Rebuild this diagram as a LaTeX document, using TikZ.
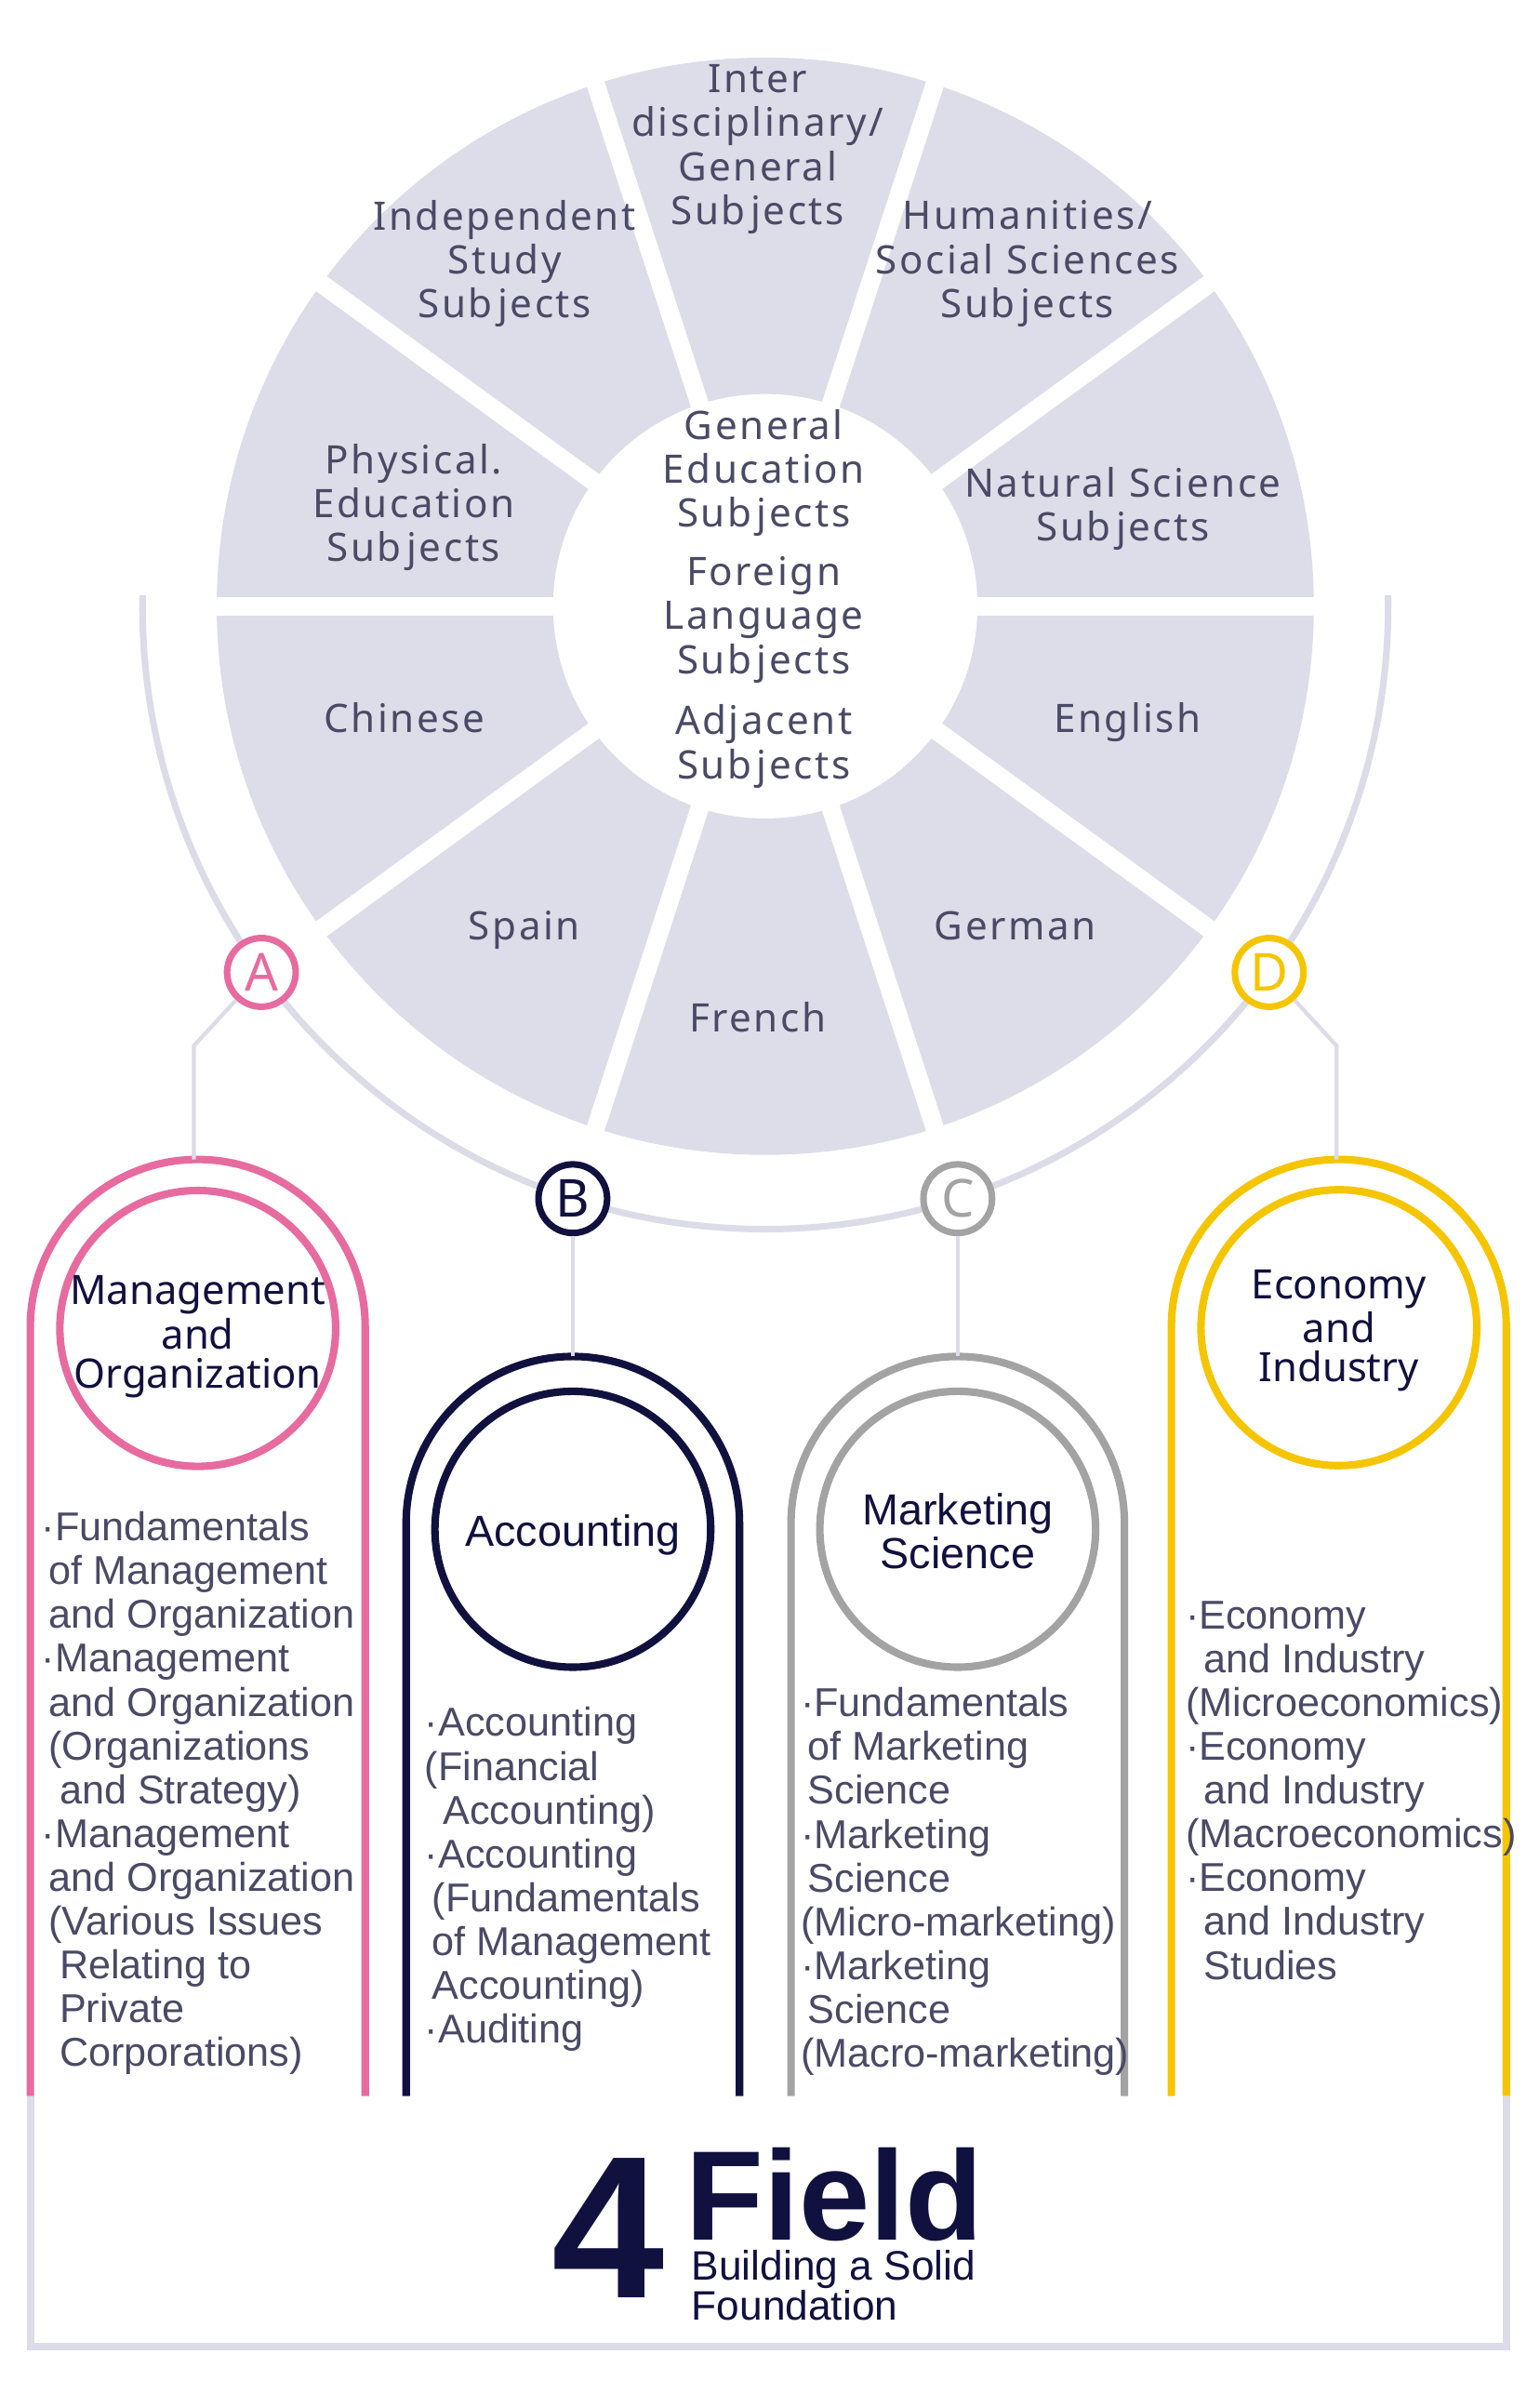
\documentclass[tikz,border=0pt]{standalone}
\usepackage{fontspec}
\setmainfont{Noto Sans}
\newfontfamily\wheelfont[LetterSpace=6]{Noto Sans}
\newfontfamily\listfont{Liberation Sans}
\newcommand{\sind}{\hspace*{2.2pt}}
\newcommand{\lind}{\hspace*{5.5pt}}
\newcommand{\subj}{Sub\kern1.6pt jects}

\begin{document}
\begin{tikzpicture}[x=0.0163cm,y=-0.0163cm,
  wheeltext/.style={text=wheelink,align=center,inner sep=0pt,font=\wheelfont\fontsize{12}{13.4}\selectfont},
  wheelword/.style={wheeltext,anchor=base},
  gap/.style={draw=white,line width=5.6pt},
  ring/.style={draw=ringgray,line width=2pt},
  link/.style={draw=ringgray,line width=1.2pt},
  tag/.style={circle,draw,line width=2pt,fill=white,minimum size=21pt,inner sep=0pt,font=\fontsize{16}{16}\selectfont},
  fieldtitle/.style={text=navy,align=center,inner sep=0pt,font=\fontsize{12.4}{12}\selectfont},
  fieldtitlenarrow/.style={text=navy,align=center,inner sep=0pt,font=\listfont\fontsize{13.3}{12}\selectfont},
  fieldlist/.style={text=wheelink,align=left,anchor=north west,inner sep=0pt,font=\listfont\fontsize{12.3}{13.4}\selectfont},
  archline/.style={line width=2.3pt}]
  \definecolor{wheelfill}{HTML}{DDDDE9}
  \definecolor{wheelink}{HTML}{4A4A66}
  \definecolor{ringgray}{HTML}{DCDCE8}
  \definecolor{pink}{HTML}{E76B9F}
  \definecolor{navy}{HTML}{11113F}
  \definecolor{midgray}{HTML}{A3A3A3}
  \definecolor{gold}{HTML}{F5C502}

  \fill[white] (0,0) rectangle (1016,1571);
  \useasboundingbox (0,0) rectangle (1016,1571);

  % subject wheel
  \coordinate (hub) at (505,400);
  \fill[wheelfill] (hub) circle[radius=362];
  \draw[gap] ([shift={(0:380)}]hub) -- ([shift={(180:380)}]hub);
  \draw[gap] ([shift={(36:380)}]hub) -- ([shift={(216:380)}]hub);
  \draw[gap] ([shift={(72:380)}]hub) -- ([shift={(252:380)}]hub);
  \draw[gap] ([shift={(108:380)}]hub) -- ([shift={(288:380)}]hub);
  \draw[gap] ([shift={(144:380)}]hub) -- ([shift={(324:380)}]hub);
  \fill[white] (hub) circle[radius=140];

  \node[wheeltext] (inter) at (500,98.5) {Inter\\disciplinary/\\General\\\subj};
  \node[wheeltext] (indep) at (333,174) {Independent\\Study\\\subj};
  \node[wheeltext] (human) at (678,174) {Humanities/\\Social Sciences\\\subj};
  \node[wheeltext] (phys) at (273,335) {Physical.\\Education\\\subj};
  \node[wheeltext] (natural) at (741,335.5) {Natural Science\\\subj};
  \node[wheelword] (chinese) at (267,483) {Chinese};
  \node[wheelword] (english) at (744,483) {English};
  \node[wheelword] (spain) at (346,620) {Spain};
  \node[wheelword] (german) at (670,620) {German};
  \node[wheelword] (french) at (500,681) {French};
  \node[wheeltext] (general) at (504,312) {General\\Education\\\subj};
  \node[wheeltext] (foreign) at (504,409) {Foreign\\Language\\\subj};
  \node[wheeltext] (adjacent) at (504,492.5) {Adjacent\\\subj};

  % outer ring
  \draw[ring] (94.1,392.8) arc[start angle=181,end angle=-1,radius=411];

  % four fields
  \draw[archline,pink] (20,1383) -- (20,875.5) arc[start angle=180,end angle=360,radius=110.5] -- (241,1383);
  \draw[archline,navy] (268,1383) -- (268,1005) arc[start angle=180,end angle=360,radius=110] -- (488,1383);
  \draw[archline,midgray] (522,1383) -- (522,1005) arc[start angle=180,end angle=360,radius=110] -- (742,1383);
  \draw[archline,gold] (773,1383) -- (773,875.5) arc[start angle=180,end angle=360,radius=110.5] -- (994,1383);
  \draw[ring,line width=2.3pt] (20,1383) -- (20,1548) -- (994,1548) -- (994,1383);

  \draw[archline,pink] (130.5,876.5) circle[radius=91];
  \draw[archline,navy] (378,1009) circle[radius=91];
  \draw[archline,midgray] (632,1009) circle[radius=91];
  \draw[archline,gold] (883.5,876) circle[radius=91];

  \node[fieldtitle] (mgmt) at (130.5,882) {Management\\and\\Organization};
  \node[fieldtitlenarrow] (acct) at (378,1013) {Accounting};
  \node[fieldtitlenarrow] (mkt) at (632,1010) {Marketing\\Science};
  \node[fieldtitle] (econ) at (883.5,878) {Economy\\and\\Industry};

  % tags on the ring
  \coordinate (abend) at (128,690);
  \coordinate (mgmttop) at (128,765);
  \coordinate (accttop) at (378,895);
  \coordinate (mkttop) at (632,895);
  \coordinate (dbend) at (882,690);
  \coordinate (econtop) at (882,765);
  \node[tag,draw=pink,text=pink] (a) at ([shift={(144:411)}]hub) {A};
  \node[tag,draw=navy,text=navy] (b) at ([shift={(108:411)}]hub) {B};
  \node[tag,draw=midgray,text=midgray] (c) at ([shift={(72:411)}]hub) {C};
  \node[tag,draw=gold,text=gold] (d) at ([shift={(36:411)}]hub) {D};
  \draw[link] (a) -- (abend) -- (mgmttop);
  \draw[link] (b) -- (b |- accttop);
  \draw[link] (c) -- (c |- mkttop);
  \draw[link] (d) -- (dbend) -- (econtop);

  % subject lists
  \node[fieldlist] (mgmtlist) at (27,997) {·Fundamentals\\\sind of Management\\\sind and Organization\\·Management\\\sind and Organization\\\sind (Organizations\\\lind and Strategy)\\·Management\\\sind and Organization\\\sind (Various Issues\\\lind Relating to\\\lind Private\\\lind Corporations)};
  \node[fieldlist] (acctlist) at (280,1126) {·Accounting\\(Financial\\\lind Accounting)\\·Accounting\\\sind (Fundamentals\\\sind of Management\\\sind Accounting)\\·Auditing};
  \node[fieldlist] (mktlist) at (528,1113) {·Fundamentals\\\sind of Marketing\\\sind Science\\·Marketing\\\sind Science\\(Micro-marketing)\\·Marketing\\\sind Science\\(Macro-marketing)};
  \node[fieldlist] (econlist) at (782,1056) {·Economy\\\lind and Industry\\(Microeconomics)\\·Economy\\\lind and Industry\\(Macroeconomics)\\·Economy\\\lind and Industry\\\lind Studies};

  % foundation
  \node[anchor=base west,inner sep=0pt,text=navy,font=\listfont\bfseries\fontsize{62}{62}\selectfont] (four) at (364,1516) {4};
  \node[anchor=base west,inner sep=0pt,text=navy,font=\listfont\bfseries\fontsize{39}{39}\selectfont] (field) at (452,1478) {Field};
  \node[anchor=north west,inner sep=0pt,align=left,text=navy,font=\listfont\fontsize{12.6}{12.5}\selectfont] (found) at (456,1484) {Building a Solid\\Foundation};
\end{tikzpicture}
\end{document}
